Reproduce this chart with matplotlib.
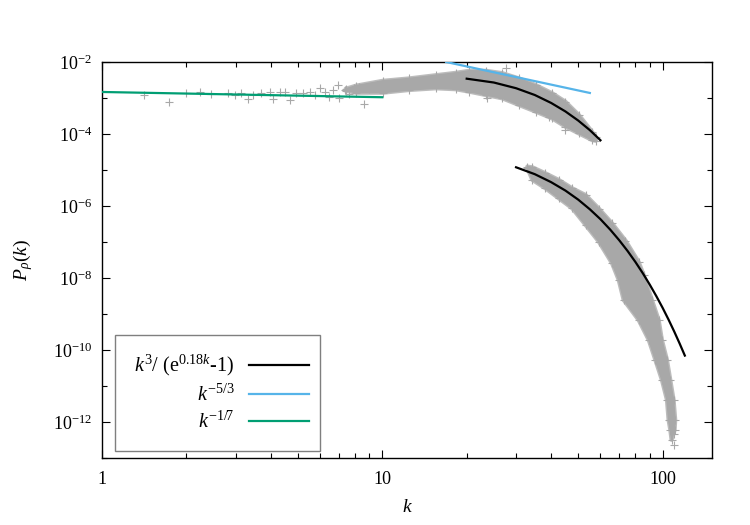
import math
import matplotlib
matplotlib.use("Agg")
import matplotlib.pyplot as plt
from matplotlib.ticker import FixedLocator, NullFormatter, FuncFormatter
from matplotlib.patches import Rectangle
from matplotlib.lines import Line2D

plt.rcParams["font.family"] = "Liberation Serif"
plt.rcParams["mathtext.fontset"] = "custom"
plt.rcParams["mathtext.rm"] = "Liberation Serif"
plt.rcParams["mathtext.it"] = "Liberation Serif:italic"

GRAY = "#a8a8a8"
GRAY_EDGE = "#bcbcbc"
BLACK = "#000000"
BLUE = "#56b4e9"
GREEN = "#009e73"

# --- scattered spectrum points ---
sparse_k = [1.0, 1.41, 1.74, 2.0, 2.23, 2.44, 2.82, 2.97, 3.12, 3.32, 3.46, 3.70,
            3.96, 4.09, 4.30, 4.51, 4.67, 4.93, 5.20, 5.50, 5.73, 5.97, 6.22,
            6.48, 6.66, 6.93, 7.03, 7.33, 7.6, 7.9, 8.28, 8.63, 8.99,
            27.6, 23.7, 39.3, 45.0, 109.9, 109.6]
sparse_p = [1.6e-3, 1.2e-3, 7.7e-4, 1.35e-3, 1.44e-3, 1.27e-3, 1.35e-3, 1.2e-3,
            1.35e-3, 9.2e-4, 1.2e-3, 1.35e-3, 1.5e-3, 9.6e-4, 1.44e-3, 1.5e-3,
            8.8e-4, 1.35e-3, 1.4e-3, 1.5e-3, 1.2e-3, 1.93e-3, 1.5e-3, 1.1e-3,
            1.67e-3, 2.3e-3, 9.8e-4, 1.67e-3, 1.3e-3, 1.9e-3, 2.05e-3, 6.7e-4, 1.8e-3,
            6.7e-3, 9.8e-4, 3.0e-4, 1.3e-4, 2.3e-13, 4.5e-13]

# --- dense band, upper branch: k, upper edge, lower edge ---
band1_k = [7.4, 8.06, 10.03, 12.48, 15.53, 18.29, 20.4, 23.4, 26.8, 30.7, 35.2, 40.4,
           45.0, 50.2, 56.0, 57.8]
band1_hi = [1.8e-3, 2.2e-3, 3.0e-3, 3.5e-3, 4.3e-3, 5.0e-3, 5.7e-3, 5.7e-3, 4.9e-3, 3.5e-3,
            2.3e-3, 1.35e-3, 7.9e-4, 3.4e-4, 1.16e-4, 8.0e-5]
band1_lo = [1.6e-3, 1.4e-3, 1.4e-3, 1.67e-3, 1.86e-3, 1.75e-3, 1.5e-3, 1.21e-3, 9.8e-4,
            6.4e-4, 4.2e-4, 2.7e-4, 1.6e-4, 1.04e-4, 6.8e-5, 6.5e-5]

# --- dense band, lower branch: upper edge and lower edge traced separately ---
band2_hi_k = [32.9, 34.3, 38.2, 42.6, 47.6, 53.1, 59.2, 66.0, 73.7, 82.1, 85.6,
              91.6, 96.8, 99.4, 103.6, 106.5, 109.4, 110.9, 110.3]
band2_hi_p = [1.24e-5, 1.19e-5, 8.1e-6, 5.3e-6, 3.1e-6, 2.02e-6, 8.5e-7, 3.3e-7,
              1.1e-7, 2.8e-8, 1.21e-8, 2.45e-9, 6.8e-10, 1.9e-10, 5.3e-11, 1.47e-11,
              4.1e-12, 1.14e-12, 6.0e-13]
band2_lo_k = [32.9, 34.3, 38.2, 42.6, 47.6, 53.1, 59.2, 66.0, 69.7, 72.6, 82.1,
              89.2, 94.2, 99.4, 103.6, 105.0, 106.5, 107.6]
band2_lo_p = [1.14e-5, 5.3e-6, 3.1e-6, 1.64e-6, 8.6e-7, 2.97e-7, 1.02e-7, 2.56e-8,
              8.8e-9, 2.45e-9, 6.8e-10, 1.9e-10, 5.3e-11, 1.47e-11, 4.1e-12,
              1.14e-12, 6.0e-13, 3.2e-13]

# --- fit lines ---
fit1_k = [20, 25, 30, 35, 40, 45, 50, 55, 60]
fit1_p = [3.44e-3, 2.69e-3, 1.87e-3, 1.21e-3, 7.3e-4, 4.23e-4, 2.36e-4, 1.28e-4, 6.7e-5]
fit2_k = [30, 35, 40, 45, 50, 55, 60, 65, 70, 75, 80, 85, 90, 95, 100, 105, 110, 115, 120]
fit2_p = [1.19e-5, 7.65e-6, 4.6e-6, 2.68e-6, 1.50e-6, 8.1e-7, 4.3e-7, 2.21e-7, 1.12e-7,
          5.61e-8, 2.77e-8, 1.35e-8, 6.5e-9, 3.11e-9, 1.48e-9, 6.96e-10, 3.25e-10,
          1.51e-10, 7.0e-11]
kol_k = [16.9, 55.0]
kol_p = [1.0e-2, 1.38e-3]
flat_k = [1.0, 10.0]
flat_p = [1.47e-3, 1.05e-3]

labels = [r"$k^3$/ (e$^{0.18k}$-1)", r"$k^{-5/3}$", r"$k^{-1/7}$"]

fig = plt.figure(figsize=(7.5, 5.25), dpi=100)
ax = fig.add_axes([102/750, 1-458/525, 610/750, 396/525])
ax.set_xscale("log")
ax.set_yscale("log")

# data cloud
poly1_k = band1_k + band1_k[::-1]
poly1_p = band1_hi + band1_lo[::-1]
poly2_k = band2_hi_k + band2_lo_k[::-1]
poly2_p = band2_hi_p + band2_lo_p[::-1]
for pk, pp in [(poly1_k, poly1_p), (poly2_k, poly2_p)]:
    ax.fill(pk, pp, facecolor=GRAY, edgecolor=GRAY_EDGE, lw=3.0, joinstyle="round", zorder=2)
    ax.fill(pk, pp, facecolor=GRAY, edgecolor=GRAY, lw=1.0, zorder=2)
pt = dict(linestyle="None", marker="+", markersize=6, markeredgewidth=0.8, color=GRAY, zorder=2)
ax.plot(sparse_k, sparse_p, **pt)
ax.plot(band1_k, band1_hi, **pt)
ax.plot(band1_k, band1_lo, **pt)
ax.plot(band2_hi_k, band2_hi_p, **pt)
ax.plot(band2_lo_k, band2_lo_p, **pt)

ax.plot(fit1_k, fit1_p, color=BLACK, lw=1.6, zorder=4)
ax.plot(fit2_k, fit2_p, color=BLACK, lw=1.6, zorder=4)
ax.plot(kol_k, kol_p, color=BLUE, lw=1.6, zorder=4)
ax.plot(flat_k, flat_p, color=GREEN, lw=1.6, zorder=4)

ax.set_xlim(1, 150)
ax.set_ylim(1e-13, 1e-2)

ax.xaxis.set_major_locator(FixedLocator([1, 10, 100]))
ax.xaxis.set_minor_locator(FixedLocator([2, 3, 4, 5, 6, 7, 8, 9, 20, 30, 40, 50, 60, 70, 80, 90]))
ax.xaxis.set_major_formatter(FuncFormatter(lambda v, p: f"{int(round(v))}"))
ax.xaxis.set_minor_formatter(NullFormatter())
ax.yaxis.set_major_locator(FixedLocator([10.0**e for e in range(-12, -1, 2)]))
ax.yaxis.set_minor_locator(FixedLocator([10.0**e for e in range(-13, -2, 2)]))
ax.yaxis.set_major_formatter(FuncFormatter(lambda v, p: r"$\mathregular{10^{%d}}$" % round(math.log10(v))))
ax.yaxis.set_minor_formatter(NullFormatter())

ax.tick_params(which="both", direction="in", top=True, right=True, labelsize=13, width=0.8)
ax.tick_params(which="major", length=6)
ax.tick_params(which="minor", length=3.5)
ax.tick_params(axis="x", pad=9)
ax.tick_params(axis="y", pad=7)
for s in ax.spines.values():
    s.set_linewidth(1.0)

ax.set_xlabel(r"$k$", fontsize=14, labelpad=8)
ax.set_ylabel(r"$P_{\rho}(k)$", fontsize=14, labelpad=13)

fig.patches.append(Rectangle((115/750, 1-451/525), 205/750, 116/525, transform=fig.transFigure,
                             fill=False, edgecolor="#7f7f7f", lw=1.0, zorder=5))
handles = [Line2D([0], [0], color=c, lw=1.6) for c in (BLACK, BLUE, GREEN)]
fig.legend(handles, labels, loc="center right", bbox_to_anchor=(309/750, 1-393/525),
           frameon=False, markerfirst=False, fontsize=14.5, handlelength=3.0,
           handletextpad=0.7, labelspacing=0.3, borderpad=0, borderaxespad=0)

fig.savefig("out.png", dpi=100)
